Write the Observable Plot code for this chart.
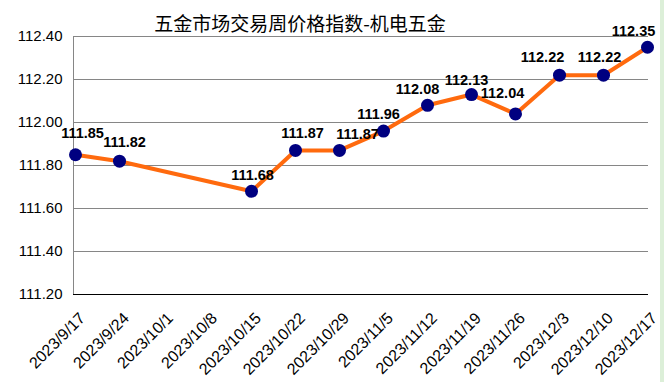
<!DOCTYPE html>
<html>
<head>
<meta charset="utf-8">
<script src="https://cdn.jsdelivr.net/npm/d3@7"></script>
<script src="https://cdn.jsdelivr.net/npm/@observablehq/plot@0.6"></script>
<style>
  html, body { margin: 0; padding: 0; background: #fff; }
  #wrap { position: relative; width: 664px; height: 382px; overflow: hidden; }
  #title { position: absolute; top: 9px; left: 0; width: 600px; text-align: center;
    font-family: "Noto Sans CJK SC", sans-serif; font-size: 19px; color: #000; }
  #strip { position: absolute; top: 0; right: 0; width: 4px; height: 382px; background: #dcefd8; }
  #chart svg { overflow: visible; }
</style>
</head>
<body>
<div id="wrap">
  <div id="chart"></div>
  <div id="title">五金市场交易周价格指数-机电五金</div>
  <div id="strip"></div>
</div>
<script>
const dates = ["2023/9/17","2023/9/24","2023/10/1","2023/10/8","2023/10/15","2023/10/22","2023/10/29","2023/11/5","2023/11/12","2023/11/19","2023/11/26","2023/12/3","2023/12/10","2023/12/17"];
const values = [111.85,111.82,null,null,111.68,111.87,111.87,111.96,112.08,112.13,112.04,112.22,112.22,112.35];
const yTicks = [111.20,111.40,111.60,111.80,112.00,112.20,112.40];
// label nudges (pixels) for the data labels, in the order of the plotted points
const labelDx = [7,5,1,7,18,-5,-10,-5,-13,-17,-4,-14];
const labelDy = [-21,-19,-16,-17,-16,-17,-16,-14,-21,-18,-18,-16];

const data = dates.map((d, i) => ({date: d, value: values[i]})).filter(d => d.value != null);

const labelMarks = data.map((d, i) =>
  Plot.text([d], {x: "date", y: "value", text: v => v.value.toFixed(2), dx: labelDx[i], dy: labelDy[i],
    fontSize: 14.5, fontWeight: "bold", fill: "#000"}));

const chart = Plot.plot({
  width: 664,
  height: 382,
  marginLeft: 73,
  marginRight: 16,
  marginTop: 36,
  marginBottom: 88,
  style: {fontFamily: "Liberation Sans, Arial, sans-serif", background: "transparent", color: "#000"},
  x: {type: "point", domain: dates, padding: 0},
  y: {domain: [111.2, 112.4], ticks: yTicks},
  marks: [
    Plot.gridY(yTicks.slice(1), {stroke: "#868686", strokeOpacity: 1}),
    Plot.frame({anchor: "left", stroke: "#868686"}),
    Plot.ruleY([111.2], {stroke: "#000"}),
    Plot.axisY({ticks: yTicks, tickSize: 0, tickPadding: 11, tickFormat: d3.format(".2f"), fontSize: 15, label: null}),
    Plot.axisX({tickRotate: -45, tickSize: 0, tickPadding: 10, fontSize: 16, label: null, dx: 7, dy: 11}),
    Plot.line(data, {x: "date", y: "value", stroke: "#ff6a0e", strokeWidth: 4}),
    Plot.dot(data, {x: "date", y: "value", r: 6.5, fill: "#000080", stroke: "none"}),
    ...labelMarks
  ]
});
document.getElementById("chart").appendChild(chart);
</script>
</body>
</html>
